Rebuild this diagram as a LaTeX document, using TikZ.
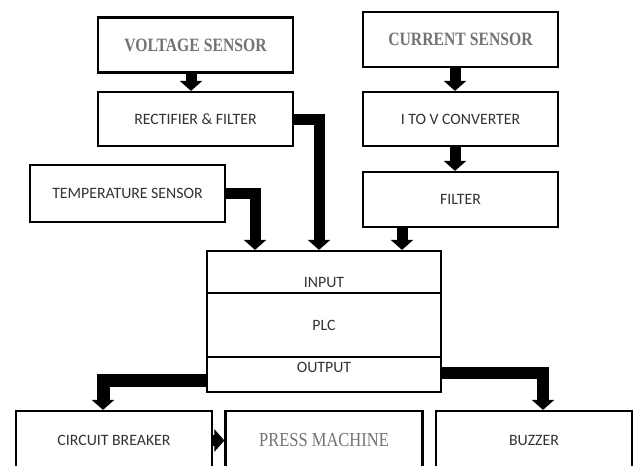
\documentclass[tikz,border=0pt]{standalone}
\usepackage{fontspec}
\newfontfamily\calfont{Carlito}
\newfontfamily\timesfont{Liberation Serif}
\usetikzlibrary{arrows.meta,positioning}
\newcommand{\tall}[1]{\scalebox{1}[1.2]{#1}}

\begin{document}
\begin{tikzpicture}[x=1pt,y=-1pt,
  box/.style={draw,line width=2.2pt,minimum width=195pt,minimum height=55pt,
    font=\calfont\fontsize{15.8}{17}\selectfont,text=black!80},
  serifbox/.style={box,font=\timesfont\bfseries\fontsize{15.7}{18}\selectfont,text=black!55},
  lbl/.style={font=\calfont\fontsize{15.8}{17}\selectfont,text=black!80},
  bar/.style={line width=11pt,line join=miter,-{Triangle[width=22pt,length=10pt]}}]

  \fill[white] (0,0) rectangle (635,466);
  \clip (0,0) rectangle (635,466);

  % Voltage branch
  \node[serifbox] (volt) at (195.5,45) {\tall{VOLTAGE SENSOR}};
  \node[box,minimum height=54pt] (rect) at (195.5,119) {RECTIFIER \& FILTER};
  \node[box,minimum height=57pt] (temp) at (127.5,193.5) {TEMPERATURE SENSOR};

  % Current branch
  \node[serifbox] (curr) at (460.5,39.5) {\tall{CURRENT SENSOR}};
  \node[box,minimum height=54pt] (itov) at (460.5,119) {I TO V CONVERTER};
  \node[box] (filt) at (460.5,199.5) {FILTER};

  % PLC
  \node[box,minimum width=234pt,minimum height=42pt] (in) at (324,272) {};
  \node[lbl] at ([yshift=-10pt]in.center) {INPUT};
  \node[box,minimum width=234pt,minimum height=64pt] (plc) at (324,325) {PLC};
  \node[box,minimum width=234pt,minimum height=35pt] (out) at (324,374.5) {};
  \node[lbl] at ([yshift=7pt]out.center) {OUTPUT};

  % Loads
  \node[box,minimum width=196pt,minimum height=59pt] (cb) at (114,440.5) {CIRCUIT BREAKER};
  \node[serifbox,font=\timesfont\fontsize{16.5}{18}\selectfont,minimum width=197pt,minimum height=59pt]
    (press) at (324,440.5) {\tall{PRESS MACHINE}};
  \node[box,minimum width=196pt,minimum height=59pt] (buz) at (534,440.5) {BUZZER};

  % Entry points on the input block
  \coordinate (inA) at ([xshift=-69pt]in.north);
  \coordinate (inB) at ([xshift=-5pt]in.north);
  \coordinate (inC) at ([xshift=78pt]in.north);

  % Arrows
  \draw[bar] ([xshift=-4.5pt]volt.south) -- ([xshift=-4.5pt]rect.north);
  \draw[bar] (rect.east) -| (inB);
  \draw[bar] (temp.east) -| (inA);
  \draw[bar] ([xshift=-5.5pt]curr.south) -- ([xshift=-5.5pt]itov.north);
  \draw[bar] ([xshift=-5.5pt]itov.south) -- ([xshift=-5.5pt]filt.north);
  \draw[bar] (filt.south -| inC) -- (inC);
  \draw[bar,line width=13pt] ([yshift=-5.5pt]out.west) -| ([xshift=-11pt]cb.north);
  \draw[bar,line width=12pt] ([yshift=1.5pt]out.east) -| ([xshift=9pt]buz.north);
  \draw[bar] (cb.east) -- (press.west);
\end{tikzpicture}
\end{document}
